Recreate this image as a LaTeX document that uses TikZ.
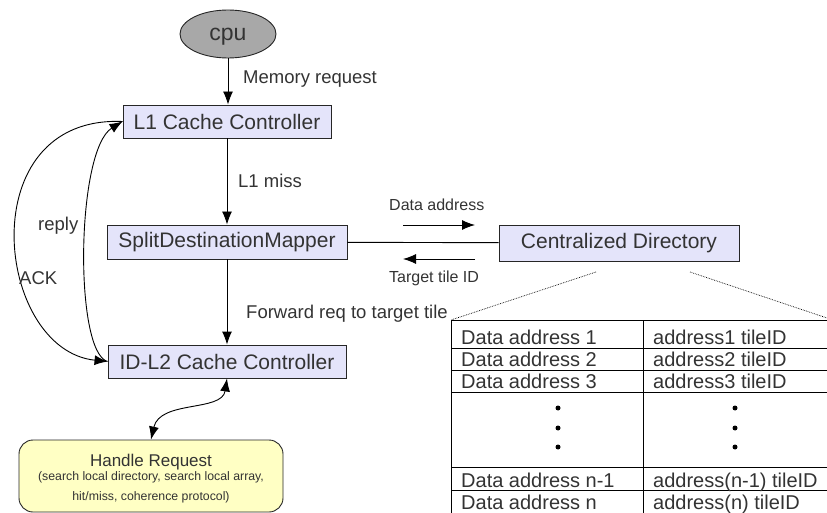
\documentclass[tikz,border=0pt]{standalone}
\usepackage{fontspec}
\setmainfont{Liberation Sans}
\usetikzlibrary{shapes.geometric,arrows.meta}

\definecolor{boxfill}{HTML}{E4E4FA}
\definecolor{txt}{HTML}{333333}
\definecolor{cpufill}{HTML}{A8A8A8}
\definecolor{handlefill}{HTML}{FFFFC4}

\begin{document}
\begin{tikzpicture}[x=1pt,y=-1pt,
  ctrl/.style={draw=black!85,fill=boxfill,line width=0.9pt,text=txt,font=\fontsize{21}{24}\selectfont,inner sep=0pt,minimum height=33pt},
  lbl/.style={text=txt,font=\fontsize{18.5}{22}\selectfont,inner sep=0pt,anchor=base west},
  small/.style={text=txt,font=\fontsize{16}{19}\selectfont,inner sep=0pt,anchor=base west},
  arr/.style={-{Latex[length=13pt,width=10pt]},line width=0.9pt},
  cell/.style={text=txt,font=\fontsize{20}{24}\selectfont,inner sep=0pt,anchor=base west}]
    \useasboundingbox (0,0) rectangle (827,513);

    \node[ellipse,draw=black!85,fill=cpufill,line width=0.9pt,minimum width=96pt,minimum height=48pt,inner sep=0pt,text depth=0pt,text=txt,font=\fontsize{23}{26}\selectfont] (cpu) at (228,34) {cpu};
    \node[ctrl,minimum width=208pt] (l1) at (227,121.5) {L1 Cache Controller};
    \node[ctrl,minimum width=240pt,minimum height=34pt] (sdm) at (227,242) {SplitDestinationMapper};
    \node[ctrl,minimum width=240pt,minimum height=36pt] (cd) at (619,243) {Centralized Directory};
    \node[ctrl,minimum width=238pt] (l2) at (227,361.5) {ID-L2 Cache Controller};
    \node[draw=black!85,fill=handlefill,line width=0.9pt,rounded corners=14pt,minimum width=264pt,minimum height=72pt,inner sep=0pt,align=center,text=txt,font=\fontsize{17}{20}\selectfont] (handle) at (151,476)
      {\rule{0pt}{17.5pt}Handle Request\\[-6pt]
       \fontsize{12.3}{18}\selectfont (search local directory, search local array,\\\fontsize{12.3}{18}\selectfont hit/miss, coherence protocol)};

    \draw[arr] (cpu.south) -- (cpu.south |- l1.north);
    \draw[arr] (l1.south) -- (l1.south |- sdm.north);
    \draw[arr] (sdm.south) -- (sdm.south |- l2.north);
    \draw[line width=0.9pt] (sdm) -- (cd);
    \draw[arr] (l1.west) .. controls (-30,115) and (-5,350) .. (l2.west);
    \draw[arr] (l2.west) .. controls (74,352) and (76,150) .. (l1.west);
    \draw[{Latex[length=13pt,width=10pt]}-{Latex[length=13pt,width=10pt]},line width=0.9pt] (l2.south) .. controls (222,412) and (160,400) .. (handle.north);

    \node[lbl] (memreq) at (243,84) {Memory request};
    \node[lbl] (l1miss) at (238,188) {L1 miss};
    \node[lbl] (fwd) at (246,318) {Forward req to target tile};
    \node[lbl] (reply) at (38,230) {reply};
    \node[lbl] (ack) at (19,284) {ACK};

    \coordinate (da1) at (403,225);
    \coordinate (da2) at (475,225);
    \coordinate (tt1) at (475,259);
    \coordinate (tt2) at (403,259);
    \draw[arr] (da1) -- (da2);
    \draw[arr] (tt1) -- (tt2);
    \node[small] (datalbl) at (389,211) {Data address};
    \node[small] (tilelbl) at (389,282) {Target tile ID};

    \coordinate (zl) at (596,272);
    \coordinate (zr) at (690,272);
    \coordinate (tl) at (451,320);
    \coordinate (tr) at (827,318);
    \draw[densely dotted,line width=0.7pt] (zl) -- (tl);
    \draw[densely dotted,line width=0.7pt] (zr) -- (tr);

    \foreach \y in {320,348,370,392,467,490}
    \draw[line width=0.9pt] (451,\y) -- (827,\y);
    \draw[line width=0.9pt] (451,320) -- (451,513);
    \draw[line width=0.9pt] (643,320) -- (643,513);
    \foreach \i/\yy/\l/\r in {1/344/{Data address 1}/{address1 tileID},2/366/{Data address 2}/{address2 tileID},3/388/{Data address 3}/{address3 tileID},4/487/{Data address n-1}/{address(n-1) tileID},5/509/{Data address n}/{address(n) tileID}}
    {
    \node[cell] (key\i) at (461,\yy) {\l};
    \node[cell] (tile\i) at (653,\yy) {\r};
    }
    \foreach \y in {408,428,447}
    \fill (558,\y) circle (2.5pt) (735,\y) circle (2.5pt);
\end{tikzpicture}
\end{document}
